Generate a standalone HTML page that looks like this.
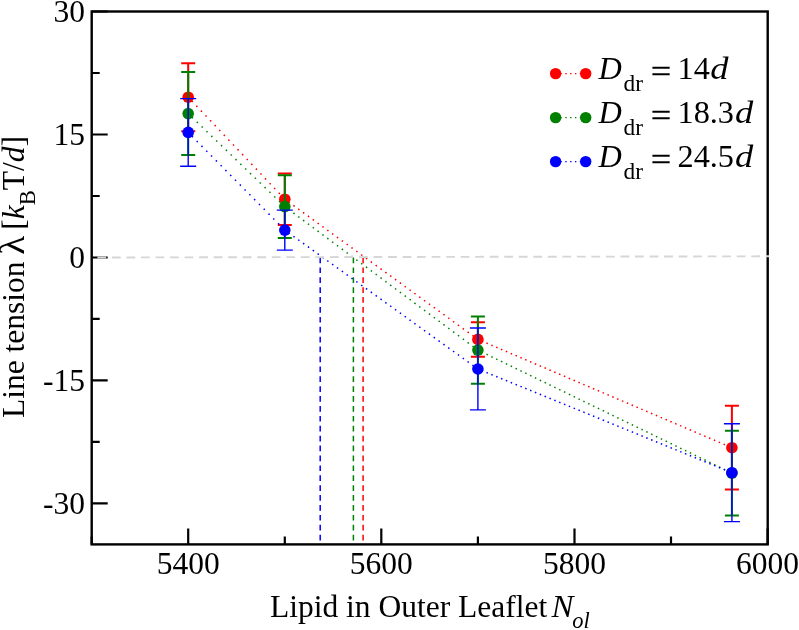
<!DOCTYPE html>
<html><head><meta charset="utf-8"><title>Line tension plot</title>
<style>html,body{margin:0;padding:0;background:#fff;}svg{display:block;will-change:transform;}text{font-family:"Liberation Serif",serif;fill:#000;}</style>
</head><body>
<svg width="799" height="630" viewBox="0 0 799 630">
<rect x="0" y="0" width="799" height="630" fill="#ffffff"/>
<line x1="320.2" y1="257.5" x2="320.2" y2="544.4" stroke="#0000ff" stroke-width="1.5" stroke-dasharray="5.7 4.2"/>
<line x1="353.4" y1="257.5" x2="353.4" y2="544.4" stroke="#008000" stroke-width="1.5" stroke-dasharray="5.7 4.2"/>
<line x1="363.1" y1="257.5" x2="363.1" y2="544.4" stroke="#ff0000" stroke-width="1.5" stroke-dasharray="5.7 4.2"/>
<line x1="188.2" y1="97.2" x2="284.8" y2="199.2" stroke="#ff0000" stroke-width="1.5" stroke-dasharray="1.5 5.16" stroke-dashoffset="1.51"/>
<line x1="284.8" y1="199.2" x2="477.9" y2="339.4" stroke="#ff0000" stroke-width="1.5" stroke-dasharray="1.5 4.48" stroke-dashoffset="1.36"/>
<line x1="477.9" y1="339.4" x2="731.9" y2="447.7" stroke="#ff0000" stroke-width="1.5" stroke-dasharray="1.5 3.76" stroke-dashoffset="1.20"/>
<path d="M188.2 63.2V131.2M181.2 63.2h14M181.2 131.2h14" stroke="#ff0000" stroke-width="2.0" fill="none"/>
<path d="M284.8 173.4V225.1M277.8 173.4h14M277.8 225.1h14" stroke="#ff0000" stroke-width="2.0" fill="none"/>
<path d="M477.9 322.2V356.7M470.9 322.2h14M470.9 356.7h14" stroke="#ff0000" stroke-width="2.0" fill="none"/>
<path d="M731.9 405.8V489.5M724.9 405.8h14M724.9 489.5h14" stroke="#ff0000" stroke-width="2.0" fill="none"/>
<circle cx="188.2" cy="97.2" r="5.8" fill="#ff0000"/>
<circle cx="284.8" cy="199.2" r="5.8" fill="#ff0000"/>
<circle cx="477.9" cy="339.4" r="5.8" fill="#ff0000"/>
<circle cx="731.9" cy="447.7" r="5.8" fill="#ff0000"/>
<line x1="188.2" y1="113.6" x2="284.8" y2="206.6" stroke="#008000" stroke-width="1.5" stroke-dasharray="1.5 5.22" stroke-dashoffset="1.53"/>
<line x1="284.8" y1="206.6" x2="477.9" y2="350.1" stroke="#008000" stroke-width="1.5" stroke-dasharray="1.5 4.53" stroke-dashoffset="1.37"/>
<line x1="477.9" y1="350.1" x2="731.9" y2="473.1" stroke="#008000" stroke-width="1.5" stroke-dasharray="1.5 3.88" stroke-dashoffset="1.22"/>
<path d="M188.2 72.0V155.1M181.2 72.0h14M181.2 155.1h14" stroke="#008000" stroke-width="2.0" fill="none"/>
<path d="M284.8 175.2V238.0M277.8 175.2h14M277.8 238.0h14" stroke="#008000" stroke-width="2.0" fill="none"/>
<path d="M477.9 316.5V383.7M470.9 316.5h14M470.9 383.7h14" stroke="#008000" stroke-width="2.0" fill="none"/>
<path d="M731.9 430.8V515.4M724.9 430.8h14M724.9 515.4h14" stroke="#008000" stroke-width="2.0" fill="none"/>
<circle cx="188.2" cy="113.6" r="5.8" fill="#008000"/>
<circle cx="284.8" cy="206.6" r="5.8" fill="#008000"/>
<circle cx="477.9" cy="350.1" r="5.8" fill="#008000"/>
<circle cx="731.9" cy="473.1" r="5.8" fill="#008000"/>
<line x1="188.2" y1="132.4" x2="284.8" y2="230.1" stroke="#0000ff" stroke-width="1.5" stroke-dasharray="1.5 5.31" stroke-dashoffset="1.55"/>
<line x1="284.8" y1="230.1" x2="477.9" y2="369.0" stroke="#0000ff" stroke-width="1.5" stroke-dasharray="1.5 4.46" stroke-dashoffset="1.35"/>
<line x1="477.9" y1="369.0" x2="731.9" y2="472.7" stroke="#0000ff" stroke-width="1.5" stroke-dasharray="1.5 3.73" stroke-dashoffset="1.19"/>
<path d="M188.2 98.6V166.2M180.2 98.6h16M180.2 166.2h16" stroke="#0000ff" stroke-width="1.4" fill="none"/>
<path d="M284.8 210.1V250.1M276.8 210.1h16M276.8 250.1h16" stroke="#0000ff" stroke-width="1.4" fill="none"/>
<path d="M477.9 328.0V409.9M469.9 328.0h16M469.9 409.9h16" stroke="#0000ff" stroke-width="1.4" fill="none"/>
<path d="M731.9 423.7V521.6M723.9 423.7h16M723.9 521.6h16" stroke="#0000ff" stroke-width="1.4" fill="none"/>
<circle cx="188.2" cy="132.4" r="5.8" fill="#0000ff"/>
<circle cx="284.8" cy="230.1" r="5.8" fill="#0000ff"/>
<circle cx="477.9" cy="369.0" r="5.8" fill="#0000ff"/>
<circle cx="731.9" cy="472.7" r="5.8" fill="#0000ff"/>
<rect x="91.7" y="11.5" width="676.0" height="532.9" fill="none" stroke="#000" stroke-width="2.4"/>
<path d="M188.2 544.4v-16M381.3 544.4v-16M574.5 544.4v-16M767.6 544.4v-16M91.7 544.4v-8M284.8 544.4v-8M477.9 544.4v-8M671.0 544.4v-8M91.7 11.5h16M91.7 134.5h16M91.7 257.5h16M91.7 380.4h16M91.7 503.4h16M91.7 73.0h8M91.7 196.0h8M91.7 318.9h8M91.7 441.9h8" stroke="#000" stroke-width="2.2" fill="none"/>
<line x1="97.4" y1="257.5" x2="769.2" y2="256.3" stroke="#d6d6d6" stroke-width="1.9" stroke-dasharray="8.8 5.73"/>
<text x="188.2" y="574.2" font-size="31.5" text-anchor="middle">5400</text>
<text x="381.3" y="574.2" font-size="31.5" text-anchor="middle">5600</text>
<text x="574.5" y="574.2" font-size="31.5" text-anchor="middle">5800</text>
<text x="767.6" y="574.2" font-size="31.5" text-anchor="middle">6000</text>
<text x="85" y="22.3" font-size="31.5" text-anchor="end">30</text>
<text x="85" y="145.3" font-size="31.5" text-anchor="end">15</text>
<text x="85" y="268.3" font-size="31.5" text-anchor="end">0</text>
<text x="85" y="391.2" font-size="31.5" text-anchor="end">-15</text>
<text x="85" y="514.2" font-size="31.5" text-anchor="end">-30</text>
<text x="270" y="617.3" font-size="31.5">Lipid in Outer Leaflet<tspan font-style="italic" x="551.5" textLength="22" lengthAdjust="spacingAndGlyphs">N</tspan><tspan font-style="italic" font-size="22.5" x="572.3" dy="10.6">ol</tspan></text>
<text transform="translate(23.8 418) rotate(-90)" font-size="31.5">Line tension</text>
<text transform="translate(23.8 254.8) rotate(-90) scale(1.12 1)" font-size="35">λ</text>
<text transform="translate(23.8 229.8) rotate(-90)" font-size="31.5">[<tspan font-style="italic">k</tspan><tspan font-size="22.5" dy="11.2">B</tspan><tspan dy="-11.2">T/</tspan><tspan font-style="italic">d</tspan>]</text>
<line x1="555.6" y1="73.6" x2="585.7" y2="73.6" stroke="#ff0000" stroke-width="1.3" stroke-dasharray="1.4 3.44"/>
<circle cx="555.6" cy="73.6" r="5.7" fill="#ff0000"/><circle cx="585.7" cy="73.6" r="5.7" fill="#ff0000"/>
<text y="78.8" font-size="32.3"><tspan x="598.6" font-style="italic">D</tspan><tspan x="623.5" font-size="23.3" dy="12.2">dr</tspan><tspan x="677.5" dy="-12.2">14</tspan></text>
<text transform="translate(710.3 78.8) scale(1.13 1)" font-size="32.3" font-style="italic">d</text>
<text transform="translate(651.0 82.0) scale(1.1 1)" font-size="32.3" stroke="#000" stroke-width="0.5">=</text>
<line x1="555.6" y1="117.6" x2="585.7" y2="117.6" stroke="#008000" stroke-width="1.3" stroke-dasharray="1.4 3.44"/>
<circle cx="555.6" cy="117.6" r="5.7" fill="#008000"/><circle cx="585.7" cy="117.6" r="5.7" fill="#008000"/>
<text y="122.8" font-size="32.3"><tspan x="598.6" font-style="italic">D</tspan><tspan x="623.5" font-size="23.3" dy="12.2">dr</tspan><tspan x="677.5" dy="-12.2">18.3</tspan></text>
<text transform="translate(734.9 122.8) scale(1.13 1)" font-size="32.3" font-style="italic">d</text>
<text transform="translate(651.0 126.0) scale(1.1 1)" font-size="32.3" stroke="#000" stroke-width="0.5">=</text>
<line x1="555.6" y1="161.6" x2="585.7" y2="161.6" stroke="#0000ff" stroke-width="1.3" stroke-dasharray="1.4 3.44"/>
<circle cx="555.6" cy="161.6" r="5.7" fill="#0000ff"/><circle cx="585.7" cy="161.6" r="5.7" fill="#0000ff"/>
<text y="166.8" font-size="32.3"><tspan x="598.6" font-style="italic">D</tspan><tspan x="623.5" font-size="23.3" dy="12.2">dr</tspan><tspan x="677.5" dy="-12.2">24.5</tspan></text>
<text transform="translate(734.9 166.8) scale(1.13 1)" font-size="32.3" font-style="italic">d</text>
<text transform="translate(651.0 170.0) scale(1.1 1)" font-size="32.3" stroke="#000" stroke-width="0.5">=</text>
</svg>
</body></html>
